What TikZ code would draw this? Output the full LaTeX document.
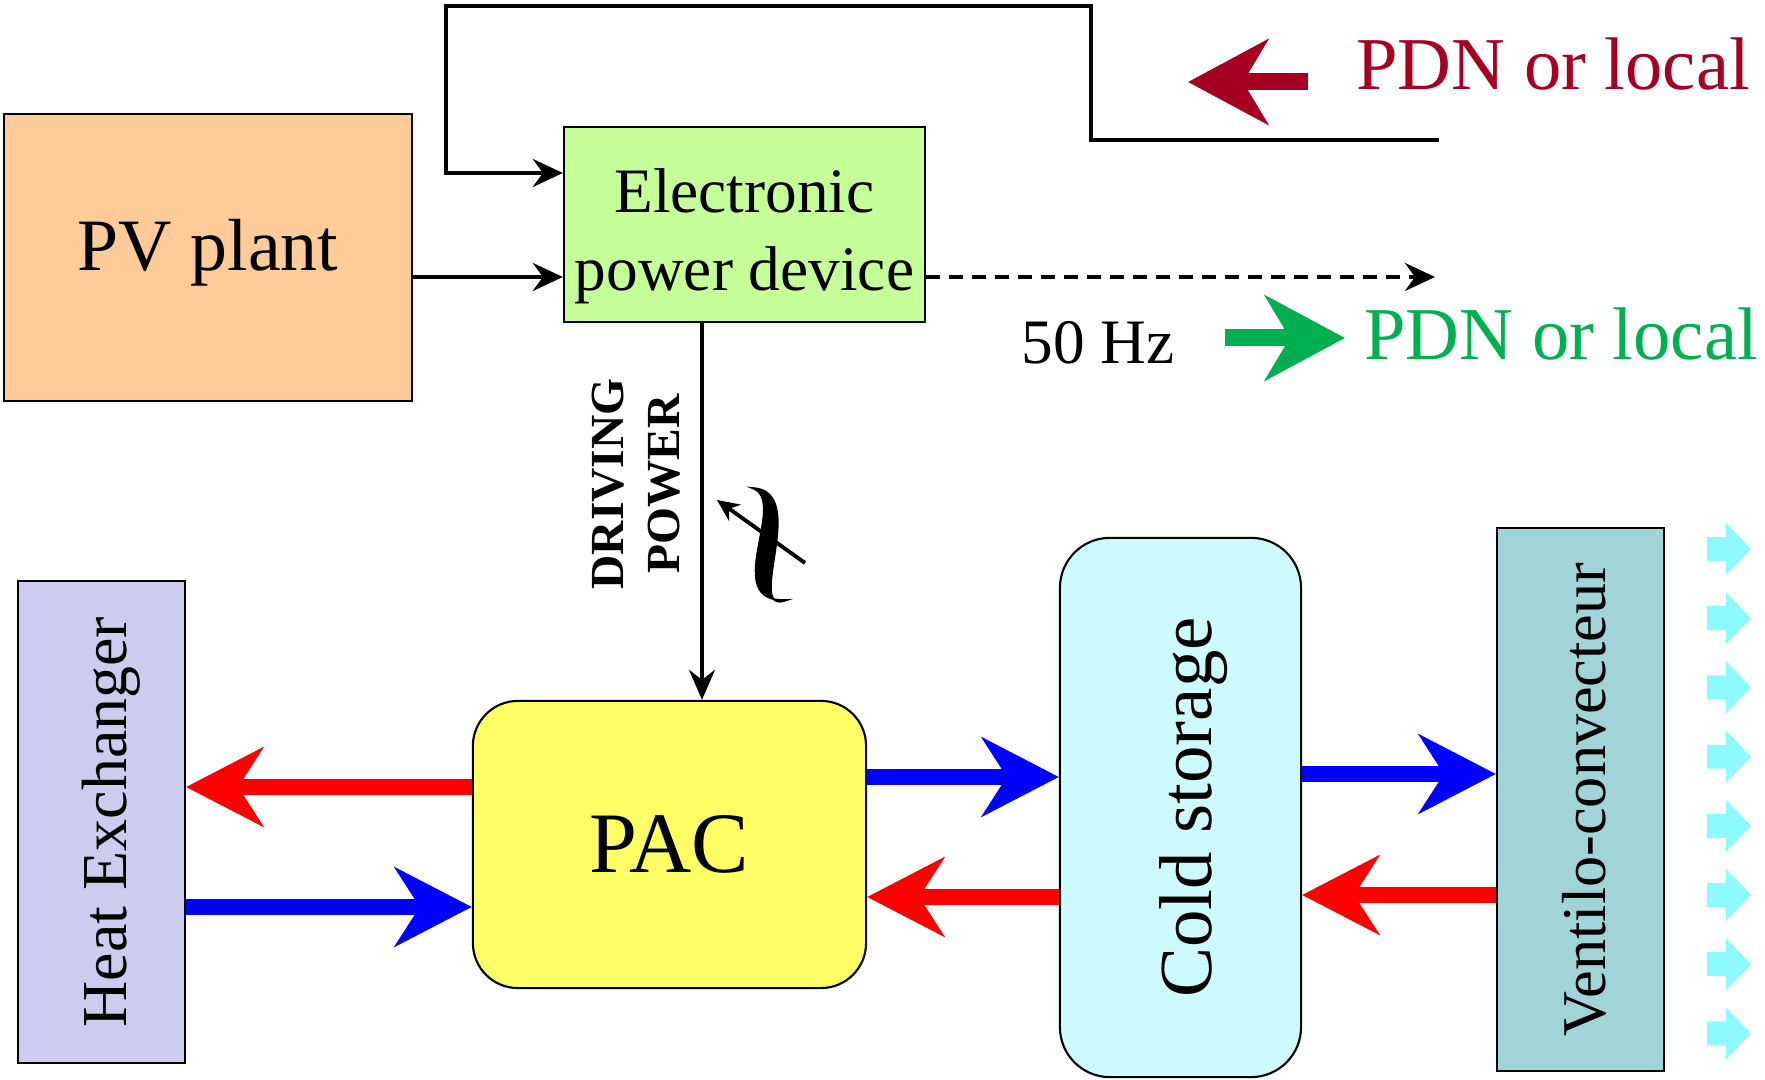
\documentclass[tikz,border=0pt]{standalone}
\usepackage{fontspec}
\setmainfont{Liberation Serif}
\usetikzlibrary{positioning,arrows.meta}
\definecolor{pvorange}{RGB}{255,204,153}
\definecolor{epdgreen}{RGB}{198,255,153}
\definecolor{hxlilac}{RGB}{204,204,238}
\definecolor{pacyellow}{RGB}{255,255,102}
\definecolor{storecyan}{RGB}{204,250,255}
\definecolor{fanteal}{RGB}{160,212,216}
\definecolor{aircyan}{RGB}{140,250,255}
\definecolor{gridred}{RGB}{165,0,33}
\definecolor{gridgreen}{RGB}{0,176,80}

\begin{document}
\begin{tikzpicture}[x=0.01cm, y=-0.01cm,
      blk/.style={rectangle, draw=black, line width=0.6pt, inner sep=0pt, align=center},
      rbox/.style={blk, rounded corners=0.45cm},
      wire/.style={-{Stealth[length=0.3cm, width=0.28cm, inset=0.1cm]}, line width=1.15pt},
      flow/.style={-{Stealth[length=0.77cm, width=0.79cm, inset=0.25cm]}, line width=0.16cm},
      hotarr/.style={flow, red},
      coolarr/.style={flow, blue},
      gridarr/.style={-{Stealth[length=0.8cm, width=0.85cm, inset=0.25cm]}, line width=0.17cm}]
      \useasboundingbox (0,0) rectangle (1765,1080);
      % top row
      \node[blk, fill=pvorange, minimum width=4.07cm, minimum height=2.87cm, text depth=0.26cm,
            font=\fontsize{21}{25}\selectfont] (pv) at (208,257.5) {PV plant};
      \node[blk, fill=epdgreen, minimum width=3.61cm, minimum height=1.95cm,
            font=\fontsize{18}{22.2}\selectfont] (epd) at (744.5,224.5) {\rule{0pt}{19pt}Electronic\\power device};
      % bottom row
      \node[blk, fill=hxlilac, minimum width=1.67cm, minimum height=4.82cm,
            font=\fontsize{18.2}{22}\selectfont] (hx) at (101.5,822) {\hspace{0.2cm}\rotatebox{90}{Heat Exchanger}};
      \node[rbox, fill=pacyellow, minimum width=3.93cm, minimum height=2.87cm,
            font=\fontsize{24.5}{28}\selectfont] (pac) at (669.5,844.5) {PAC};
      \node[rbox, rounded corners=0.5cm, fill=storecyan, minimum width=2.41cm, minimum height=5.39cm,
            font=\fontsize{21.3}{25}\selectfont] (cold) at (1180.5,807.5) {\hspace{0.26cm}\rotatebox{90}{Cold storage}};
      \node[blk, fill=fanteal, minimum width=1.67cm, minimum height=5.43cm,
            font=\fontsize{17.7}{21}\selectfont] (fan) at (1580.5,799.5) {\hspace{0.07cm}\rotatebox{90}{Ventilo-convecteur}};
      % grid side
      \coordinate (gridin) at (1439,140);
      \coordinate (gridout) at (1435,277);
      \coordinate (redtail) at (1308,82);
      \coordinate (redtip) at (1188,82);
      \coordinate (greentail) at (1225,338);
      \coordinate (greentip) at (1345,338);
      \draw[gridarr, gridred] (redtail) -- (redtip);
      \node[anchor=base west, text=gridred, font=\fontsize{21.2}{25}\selectfont] (pdnin) at (1344,90) {PDN or local};
      \draw[gridarr, gridgreen] (greentail) -- (greentip);
      \node[anchor=base west, text=gridgreen, font=\fontsize{21.2}{25}\selectfont] (pdnout) at (1352,360) {PDN or local};
      \node[anchor=base west, font=\fontsize{18}{21}\selectfont] (hz) at (1009,364) {50 Hz};
      % wires
      \draw[wire] (pv.east |- 0,277) -- (epd.west |- 0,277);
      \draw[wire] (gridin) -- (1091,140) -- (1091,6) -- (446,6) -- (446,173) -- (epd.west |- 0,173);
      \draw[wire, dash pattern=on 0.14cm off 0.09cm] (epd.east |- 0,277) -- (gridout);
      \draw[-{Stealth[length=0.3cm, width=0.26cm, inset=0.1cm]}, line width=0.9pt]
            (epd.south -| 702,0) -- (pac.north -| 702,0);
      \node[rotate=90, align=center, font=\bfseries\fontsize{13.5}{16}\selectfont] (drv) at (636,484) {DRIVING\\POWER};
      % variable frequency mark
      \filldraw[line width=0.5pt] (752,488) .. controls (812,490) and (742,618) .. (787,600)
            .. controls (718,604) and (790,500) .. (752,488) -- cycle;
      \draw[-{Stealth[length=0.22cm, width=0.2cm, inset=0.07cm]}, line width=1.1pt] (805,563) -- (717,500);
      % fluid loops
      \draw[hotarr] (pac.west |- 0,787) -- (hx.east |- 0,787);
      \draw[coolarr] (hx.east |- 0,907) -- (pac.west |- 0,907);
      \draw[coolarr] (pac.east |- 0,777) -- (cold.west |- 0,777);
      \draw[hotarr] (cold.west |- 0,897) -- (pac.east |- 0,897);
      \draw[coolarr] (cold.east |- 0,774) -- (fan.west |- 0,774);
      \draw[hotarr] (fan.west |- 0,895) -- (cold.east |- 0,895);
      % air out
      \foreach \k in {0,...,7}
        \fill[aircyan] (1707,549+69.2*\k-12) -- (1726,549+69.2*\k-12) -- (1726,549+69.2*\k-26)
            -- (1751,549+69.2*\k) -- (1726,549+69.2*\k+26) -- (1726,549+69.2*\k+12)
            -- (1707,549+69.2*\k+12) -- cycle;
    \end{tikzpicture}
\end{document}
